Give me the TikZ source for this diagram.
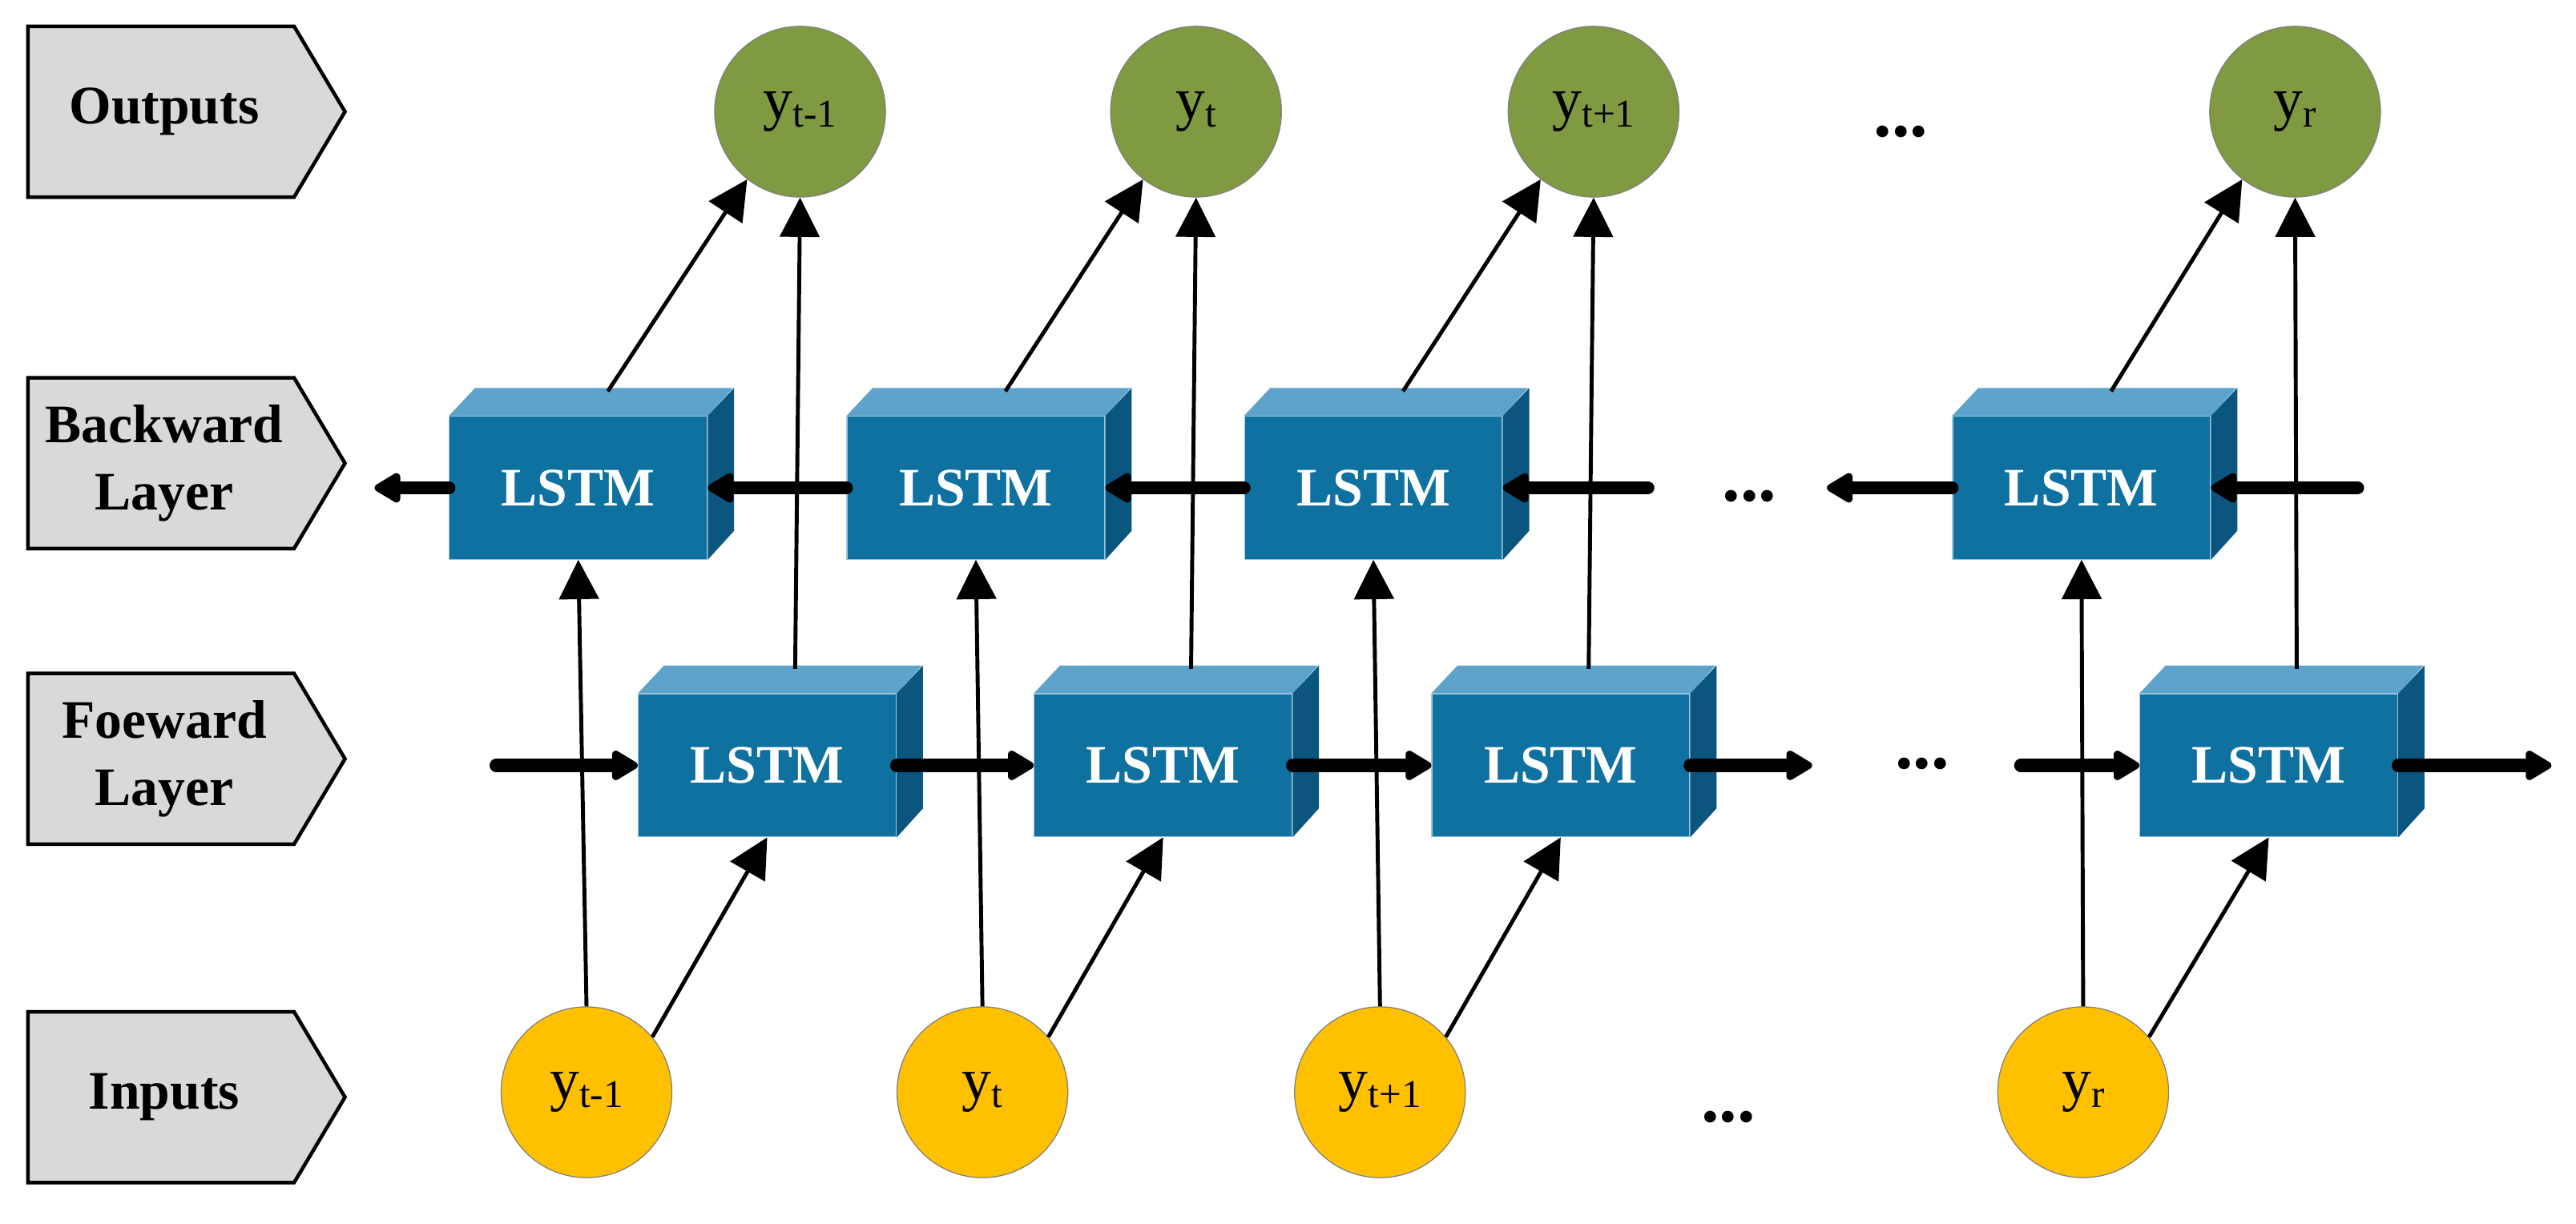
\documentclass[tikz,border=0pt]{standalone}
\usepackage{fontspec}
\setmainfont{Liberation Serif}
\usetikzlibrary{positioning,arrows.meta}

\definecolor{tagfill}{RGB}{217,217,217}
\definecolor{outgreen}{RGB}{127,154,65}
\definecolor{inyellow}{RGB}{255,192,0}
\definecolor{boxfront}{RGB}{14,113,160}
\definecolor{boxtop}{RGB}{94,163,203}
\definecolor{boxside}{RGB}{11,86,126}

\newcommand{\ysub}[1]{y{\fontsize{24}{24}\selectfont\raisebox{-5pt}{#1}}}

\tikzset{
  tag/.style={draw=black, fill=tagfill, line width=2.2pt},
  tagtext/.style={font=\fontsize{33}{41}\selectfont\bfseries, align=center},
  outnode/.style={circle, fill=outgreen, draw=gray, line width=0.6pt, minimum size=104pt, inner sep=0pt, font=\fontsize{36}{36}\selectfont},
  innode/.style={outnode, fill=inyellow},
  lstm/.style={rectangle, fill=boxfront, draw=boxtop!60, line width=0.6pt, minimum width=157pt, minimum height=87pt, text=white, font=\fontsize{33}{33}\selectfont\bfseries},
  thinarrow/.style={line width=2.4pt, -{Triangle[length=24pt,width=24pt]}},
  thickarrow/.style={line width=8pt, line cap=round, -{Triangle[length=18pt,width=20pt,round]}},
  dots/.style={font=\fontsize{44}{44}\selectfont\bfseries}
}

\begin{document}
\begin{tikzpicture}[x=1pt,y=-1pt]
  \useasboundingbox (0,0) rectangle (1568,745);

  % row tags
  \foreach \n/\y/\t in {outs/68/Outputs, bwds/282/{Backward\\Layer}, fwds/462/{Foeward\\Layer}, ins/668/Inputs}{
    \draw[tag] (17,\y-52) -- (179,\y-52) -- (210,\y) -- (179,\y+52) -- (17,\y+52) -- cycle;
    \node[tagtext] (\n) at (100,\y) {\t};
  }

  % circles
  \foreach \i/\x/\s in {1/487/t-1, 2/728/t, 3/970/t+1, 4/1397/r}
    \node[outnode] (out\i) at (\x,68) {\ysub{\s}};
  \foreach \i/\x/\s in {1/357/t-1, 2/598/t, 3/840/t+1, 4/1268/r}
    \node[innode] (in\i) at (\x,665) {\ysub{\s}};

  % LSTM boxes
  \foreach \i/\xb/\xf in {1/352/467, 2/594/708, 3/836/950, 4/1267/1381}{
    \node[lstm] (bwd\i) at (\xb,297) {LSTM};
    \node[lstm] (fwd\i) at (\xf,466) {LSTM};
    \foreach \b in {bwd\i, fwd\i}{
      \fill[boxtop] (\b.north west) -- ++(16,-17) -- ++(157,0) -- (\b.north east) -- cycle;
      \fill[boxside] (\b.north east) -- ++(16,-17) -- ++(0,87) -- (\b.south east) -- cycle;
    }
    \coordinate (bt\i) at ([shift={(18,-15)}]bwd\i.north);
    \coordinate (ft\i) at ([shift={(17,-15)}]fwd\i.north);
  }

  % backward chain
  \coordinate (bl) at (228,297);
  \coordinate (bm1) at (1003,297);
  \coordinate (bm2) at (1112,297);
  \coordinate (br) at (1435,297);
  \draw[thickarrow] (bwd1.west) -- (bl);
  \draw[thickarrow] (bwd2.west) -- (bwd1.east);
  \draw[thickarrow] (bwd3.west) -- (bwd2.east);
  \draw[thickarrow] (bm1) -- (bwd3.east);
  \draw[thickarrow] (bwd4.west) -- (bm2);
  \draw[thickarrow] (br) -- (bwd4.east);

  % forward chain
  \coordinate (fl) at (302,466);
  \coordinate (fm1) at (1103,466);
  \coordinate (fm2) at (1230,466);
  \coordinate (fr) at (1553,466);
  \draw[thickarrow] (fl) -- (fwd1.west);
  \draw[thickarrow] (fwd1.east) -- (fwd2.west);
  \draw[thickarrow] (fwd2.east) -- (fwd3.west);
  \draw[thickarrow] (fwd3.east) -- (fm1);
  \draw[thickarrow] (fm2) -- (fwd4.west);
  \draw[thickarrow] (fwd4.east) -- (fr);

  % inputs and outputs
  \foreach \i in {1,...,4}{
    \draw[thinarrow] (in\i.north) -- (bwd\i.south);
    \draw[thinarrow] (in\i.40) -- (fwd\i.south);
    \draw[thinarrow] (ft\i) -- (out\i.south);
    \draw[thinarrow] (bt\i) -- (out\i.232);
  }

  % gaps
  \node[dots] (dout) at (1157,80) {...};
  \node[dots] (dbwd) at (1065,302) {...};
  \node[dots] (dfwd) at (1170,465) {...};
  \node[dots] (din) at (1052,680) {...};
\end{tikzpicture}
\end{document}
